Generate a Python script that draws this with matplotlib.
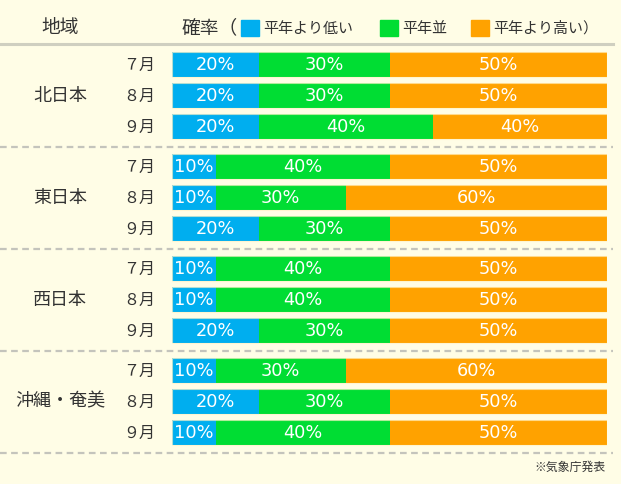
import numpy as np
import matplotlib
matplotlib.use('Agg')
import matplotlib.pyplot as plt

plt.rcParams['font.family'] = ['Noto Sans CJK JP', 'DejaVu Sans']

# データ
regions = ['北日本', '東日本', '西日本', '沖縄・奄美']
months = ['７月', '８月', '９月']
low = [[20, 20, 20], [10, 10, 20], [10, 10, 20], [10, 20, 10]]      # 平年より低い
normal = [[30, 30, 40], [40, 30, 30], [40, 40, 30], [30, 30, 40]]   # 平年並
high = [[50, 50, 40], [50, 60, 50], [50, 50, 50], [60, 50, 50]]     # 平年より高い
legend_labels = ['平年より低い', '平年並', '平年より高い']

colors = ['#00AEEF', '#00DD33', '#FFA200']
bg = '#FFFDE6'
W, H = 621, 484

fig = plt.figure(figsize=(W / 100, H / 100), dpi=100, facecolor=bg)

# 文字・罫線用（ピクセル座標）
ax = fig.add_axes([0, 0, 1, 1])
ax.set_xlim(0, W)
ax.set_ylim(H, 0)
ax.axis('off')

# 棒グラフ用（横軸は％）
bx = fig.add_axes([172 / W, 0, 435 / W, 1])
bx.set_xlim(0, 100)
bx.set_ylim(H, 0)
bx.axis('off')
bx.patch.set_alpha(0)

row0, row_step, grp_step = 64.5, 31, 102
bar_h = 24.5

# ヘッダー
ax.text(60, 28, '地域', fontsize=13.5, color='#333333', ha='center', va='center')
ax.text(182, 28, '確率（', fontsize=13.5, color='#333333', ha='left', va='center')
leg_x = [241, 380, 471]
for i, lab in enumerate(legend_labels):
    ax.add_patch(plt.Rectangle((leg_x[i], 20), 18, 16, color=colors[i]))
    t = lab + ('）' if i == 2 else '')
    ax.text(leg_x[i] + 22, 28.5, t, fontsize=10.8, color='#333333', ha='left', va='center')
ax.plot([0, 613], [44, 44], color='#CFCFC0', lw=2.2)

for g, reg in enumerate(regions):
    ys = [row0 + g * grp_step + m * row_step for m in range(len(months))]
    ax.text(60, ys[1], reg, fontsize=13, color='#333333', ha='center', va='center')
    for m, mon in enumerate(months):
        ax.text(139.5, ys[m] + 0.5, mon, fontsize=11.5, color='#333333', ha='center', va='center')
        vals = [low[g][m], normal[g][m], high[g][m]]
        left = 0
        for k, v in enumerate(vals):
            bx.barh(ys[m], v, left=left, height=bar_h, color=colors[k], lw=0)
            bx.text(left + v / 2, ys[m] + 0.5, f'{v}%', fontsize=12.8, color='white',
                    ha='center', va='center', family='DejaVu Sans')
            left += v
        # 薄い縁取り
        bx.barh(ys[m], left, height=bar_h, fill=False, edgecolor='#FFF3C8', lw=0.8, alpha=0.7)
    sep = 147 + g * grp_step
    ax.plot([0, 613], [sep, sep], color='#C4C4BC', lw=1.6, ls=(0, (3, 2)))

ax.text(606, 467, '※気象庁発表', fontsize=8.6, color='#333333', ha='right', va='center')

fig.savefig('out.png', dpi=100, facecolor=bg)
